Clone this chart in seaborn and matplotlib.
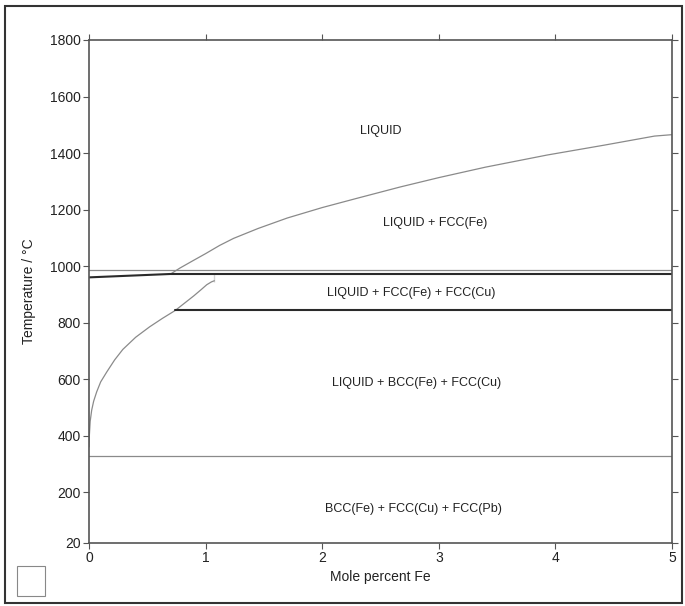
import matplotlib
matplotlib.use("Agg")
import matplotlib.pyplot as plt
import seaborn as sns
import pandas as pd
from matplotlib.patches import Rectangle

# ---- data ----
liq_x = [0.70, 0.78, 0.90, 1.00, 1.12, 1.24, 1.45, 1.70, 2.00, 2.30, 2.67, 3.00, 3.40, 3.93, 4.42, 4.85, 5.00]
liq_T = [972, 993, 1021, 1044, 1073, 1098, 1133, 1170, 1207, 1240, 1280, 1313, 1350, 1393, 1428, 1460, 1465]

sol_x = [0.0, 0.003, 0.010, 0.023, 0.040, 0.066, 0.10, 0.152, 0.22, 0.29, 0.40, 0.52, 0.63, 0.74, 0.82, 0.90, 0.96, 1.01, 1.05, 1.075]
sol_T = [360, 400, 450, 490, 522, 555, 590, 625, 668, 705, 748, 785, 815, 843, 869, 895, 916, 934, 944, 948]

left_x = [0.0, 0.70]
left_T = [960, 972]

h_upper_T = 985      # thin line across full width
h_eut_T = 971        # dark line from 0.7 to 5
h_mono_T = 843       # dark line from 0.74 to 5
h_pb_T = 328         # thin line across full width
tick_x = [1.075, 1.075]
tick_T = [945, 971]

x_ticks = [0, 1, 2, 3, 4, 5]
y_ticks = [20, 200, 400, 600, 800, 1000, 1200, 1400, 1600, 1800]

labels = ["LIQUID", "LIQUID + FCC(Fe)", "LIQUID + FCC(Fe) + FCC(Cu)",
          "LIQUID + BCC(Fe) + FCC(Cu)", "BCC(Fe) + FCC(Cu) + FCC(Pb)"]
label_x = [2.5, 2.97, 2.76, 2.81, 2.78]
label_T = [1479, 1154, 903, 585, 140]

# ---- plotting ----
sns.set_theme(style="white")
plt.rcParams['font.family'] = ['Liberation Sans', 'DejaVu Sans']

fig = plt.figure(figsize=(6.85, 6.06), dpi=100)
ax = fig.add_axes([89/685, 1-543/606, (672-89)/685, (543-40)/606])

thin = dict(color="#8a8a8a", linewidth=0.9)
dark = dict(color="#2a2a2a", linewidth=1.5)

sns.lineplot(data=pd.DataFrame({"x": liq_x, "T": liq_T}), x="x", y="T", sort=False, ax=ax, **thin)
sns.lineplot(data=pd.DataFrame({"x": sol_x, "T": sol_T}), x="x", y="T", sort=False, ax=ax, **thin)
sns.lineplot(data=pd.DataFrame({"x": left_x, "T": left_T}), x="x", y="T", sort=False, ax=ax, **dark)
sns.lineplot(data=pd.DataFrame({"x": [0, 5], "T": [h_upper_T, h_upper_T]}), x="x", y="T", sort=False, ax=ax, **thin)
sns.lineplot(data=pd.DataFrame({"x": [0.70, 5], "T": [h_eut_T, h_eut_T]}), x="x", y="T", sort=False, ax=ax, **dark)
sns.lineplot(data=pd.DataFrame({"x": [0.74, 5], "T": [h_mono_T, h_mono_T]}), x="x", y="T", sort=False, ax=ax, **dark)
sns.lineplot(data=pd.DataFrame({"x": [0, 5], "T": [h_pb_T, h_pb_T]}), x="x", y="T", sort=False, ax=ax, **thin)
sns.lineplot(data=pd.DataFrame({"x": tick_x, "T": tick_T}), x="x", y="T", sort=False, ax=ax, **dark)

for t, lx, ly in zip(labels, label_x, label_T):
    ax.text(lx, ly, t, ha="center", va="center", fontsize=9, color="#222222")

ax.set_xlim(0, 5)
ax.set_ylim(20, 1800)
ax.set_xticks(x_ticks)
ax.set_yticks(y_ticks)
ax.set_xticklabels([str(v) for v in x_ticks])
ax.set_yticklabels([str(v) for v in y_ticks])
ax.set_xlabel("Mole percent Fe", fontsize=10, color="#222222", labelpad=3)
ax.set_ylabel("Temperature / °C", fontsize=10, color="#222222", labelpad=10)
ax.tick_params(axis="both", which="both", direction="out", length=4, width=0.8,
               color="#555555", labelsize=10, labelcolor="#222222",
               top=True, right=True, bottom=True, left=True, pad=2)
for s in ax.spines.values():
    s.set_visible(True)
    s.set_color("#555555")
    s.set_linewidth(1.2)

# figure frame
fig.patches.append(Rectangle((5/685, 1-603/606), 677/685, 597/606, transform=fig.transFigure,
                             fill=False, edgecolor="#333333", linewidth=1.5))
# small logo box
fig.patches.append(Rectangle((17/685, 1-596/606), 28/685, 30/606, transform=fig.transFigure,
                             fill=False, edgecolor="#888888", linewidth=0.8))

fig.savefig("out.png", dpi=100)
